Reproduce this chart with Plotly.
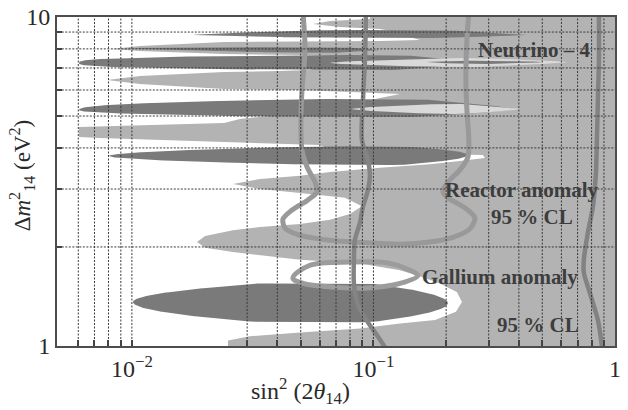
import numpy as np
import plotly.graph_objects as go

# ---------------- axis ticks / grid (data values) ----------------
grid_sin2 = [0.006, 0.007, 0.008, 0.009, 0.01, 0.03, 0.04, 0.05, 0.06, 0.07,
             0.08, 0.09, 0.1, 0.2, 0.3, 0.4, 0.5, 0.6, 0.7, 0.8, 0.9]
grid_dm2 = [2, 3, 4, 5, 6, 7, 8, 9]
x_label_vals = [0.01, 0.1, 1]
x_label_text = ["10<sup>−2</sup>", "10<sup>−1</sup>", "1"]
y_label_vals = [1, 10]
y_label_text = ["1", "10"]

# ---------------- white (allowed) region: right boundary, top -> bottom ----------------
white_edge_sin2 = [0.0967, 0.0967, 0.0661, 0.0562, 0.0727, 0.1064, 0.1288, 0.1416, 0.1557,
                   0.1064, 0.0241, 0.0108, 0.00827, 0.0108, 0.0241, 0.0497, 0.0661, 0.0661,
                   0.0546, 0.0410, 0.0241, 0.0108, 0.00789, 0.0108, 0.0241, 0.0497, 0.1288,
                   0.1064, 0.0661, 0.0339, 0.0280, 0.0241, 0.00738, 0.00604, 0.00604, 0.00738,
                   0.0241, 0.0601, 0.0661, 0.1884, 0.2839, 0.2893, 0.2281, 0.1713, 0.1064,
                   0.0661, 0.0497, 0.0339, 0.0262, 0.0339, 0.0497, 0.0762, 0.0896, 0.0799,
                   0.0661, 0.0497, 0.0339, 0.0262, 0.0201, 0.0186, 0.0201, 0.0262, 0.0356,
                   0.0497, 0.0879, 0.1288, 0.1557, 0.1884, 0.2216, 0.2324, 0.2196, 0.180,
                   0.1288, 0.0879, 0.0497, 0.0308, 0.0250, 0.0250]
white_edge_dm2 = [10.5, 9.86, 9.72, 9.52, 9.32, 9.19, 8.94, 8.69, 8.51,
                  8.45, 8.40, 8.16, 7.99, 7.88, 7.72, 7.66, 7.61, 7.25,
                  6.90, 6.85, 6.81, 6.62, 6.44, 6.26, 6.04, 6.00, 5.83,
                  5.67, 5.22, 4.97, 4.90, 4.76, 4.66, 4.63, 4.32, 4.29,
                  4.17, 4.08, 3.94, 3.83, 3.81, 3.73, 3.65, 3.57, 3.48,
                  3.38, 3.29, 3.22, 3.11, 3.00, 2.92, 2.82, 2.66, 2.52,
                  2.42, 2.35, 2.30, 2.25, 2.16, 2.07, 1.99, 1.93, 1.88,
                  1.83, 1.78, 1.70, 1.63, 1.55, 1.46, 1.36, 1.27, 1.20,
                  1.17, 1.13, 1.10, 1.07, 1.04, 0.95]

# ---------------- dark-gray stripes (left-pointing tongues) ----------------
dark_tip_sin2 = [0.0179, 0.00927, 0.00604, 0.00604, 0.00804, 0.0101]
dark_tip_dm2 = [8.82, 8.05, 7.25, 5.22, 3.78, 1.36]
dark_full_sin2 = [0.0661, 0.0497, 0.0497, 0.0497, 0.0661, 0.0339]
dark_top_dm2 = [9.13, 8.10, 7.66, 5.63, 4.05, 1.55]
dark_bot_dm2 = [8.64, 7.78, 6.90, 4.97, 3.55, 1.18]
dark_taper_sin2 = [0.188, 0.0727, 0.1288, 0.1557, 0.1288, 0.0967]
dark_end_sin2 = [0.432, 0.1064, 0.2506, 0.378, 0.246, 0.2034]
dark_end_dm2 = [8.82, 7.94, 7.30, 5.25, 3.81, 1.35]
dark_tip_power = [0.7, 0.7, 0.3, 0.4, 0.5, 0.5]
dark_end_power = [0.8, 0.8, 0.7, 0.7, 0.5, 0.5]

# ---------------- very light cores ----------------
pale_tip_sin2 = [0.0661, 0.0815]
pale_tip_dm2 = [7.25, 5.25]
pale_full_sin2 = [0.1884, 0.1884]
pale_top_dm2 = [7.50, 5.44]
pale_bot_dm2 = [7.05, 5.07]
pale_taper_sin2 = [0.2758, 0.2281]
pale_end_sin2 = [0.632, 0.404]
pale_end_dm2 = [7.30, 5.25]

# dark thread inside the upper pale core (Neutrino-4 best fit)
core_tip_sin2 = [0.1665]
core_tip_dm2 = [7.30]
core_full_sin2 = [0.2506]
core_top_dm2 = [7.36]
core_bot_dm2 = [7.20]
core_taper_sin2 = [0.334]
core_end_sin2 = [0.503]
core_end_dm2 = [7.30]

# ---------------- contour curves ----------------
reactor_sin2 = [0.0511, 0.0521, 0.0506, 0.0501, 0.0506, 0.0531, 0.0573, 0.0584, 0.0536,
                0.0460, 0.0422, 0.0431, 0.0487, 0.0642, 0.0940, 0.1288, 0.1713, 0.2134,
                0.2506, 0.2630, 0.2391, 0.2034, 0.1940, 0.2034, 0.2281, 0.2460, 0.2483,
                0.2437, 0.2414, 0.2437, 0.2483]
reactor_dm2 = [10.3, 7.94, 6.00, 4.53, 3.94, 3.50, 3.15, 2.94, 2.78,
               2.59, 2.43, 2.28, 2.18, 2.10, 2.06, 2.04, 2.07, 2.14,
               2.27, 2.45, 2.63, 2.82, 2.94, 3.15, 3.43, 3.75, 4.23,
               5.22, 6.44, 8.51, 10.3]

mid_curve_sin2 = [0.0931, 0.0922, 0.0905, 0.0896, 0.0949, 0.0967, 0.0949, 0.0905, 0.0879,
                  0.0838, 0.0830, 0.0830, 0.0863, 0.0949, 0.1033, 0.1138]
mid_curve_dm2 = [10.3, 7.40, 5.59, 4.23, 3.67, 3.31, 2.98, 2.65, 2.37,
                 2.10, 1.83, 1.55, 1.33, 1.18, 1.08, 0.97]

right_curve_sin2 = [0.8579, 0.8579, 0.8494, 0.8415, 0.8337, 0.8101, 0.7721, 0.7431, 0.7431,
                    0.7870, 0.8494, 0.8827, 0.886]
right_curve_dm2 = [10.3, 7.40, 5.59, 4.23, 3.36, 2.65, 2.21, 1.83, 1.67,
                   1.45, 1.20, 1.00, 0.97]

gallium_sin2 = [0.0464, 0.0546, 0.0799, 0.1138, 0.1416, 0.1528, 0.1288, 0.0940, 0.0680,
                0.0511, 0.0464]
gallium_dm2 = [1.61, 1.76, 1.80, 1.79, 1.70, 1.64, 1.55, 1.50, 1.51, 1.55, 1.61]

# ---------------- styles ----------------
LIGHT = "#b3b3b3"
DARK = "#7a7a7a"
PALE = "#d9d9d9"
SERIF = "Times New Roman, Liberation Serif, Times, serif"


def tongue(tip_x, tip_y, full_x, top_y, bot_y, taper_x, end_x, end_y, p, q, n=260):
    a, b, c, d = np.log10([tip_x, full_x, taper_x, end_x])
    ty, tt, tb, te = np.log10([tip_y, top_y, bot_y, end_y])
    s = np.linspace(0, 1, n)
    lx = a + (d - a) * s
    lx = np.unique(np.concatenate([lx, a + (b - a) * np.linspace(0, 1, 60) ** 2,
                                   d - (d - c) * np.linspace(0, 1, 60) ** 2]))
    top, bot = [], []
    for v in lx:
        if v < b:
            f = max((v - a) / (b - a), 0) ** p
            top.append(ty + (tt - ty) * f)
            bot.append(ty + (tb - ty) * f)
        elif v <= c:
            top.append(tt)
            bot.append(tb)
        else:
            g = max((d - v) / (d - c), 0) ** q
            top.append(te + (tt - te) * g)
            bot.append(te + (tb - te) * g)
    xs = np.concatenate([lx, lx[::-1]])
    ys = np.concatenate([top, bot[::-1]])
    return 10 ** xs, 10 ** ys


fig = go.Figure()

# white region
wx = [0.001] + white_edge_sin2 + [0.001]
wy = [white_edge_dm2[0]] + white_edge_dm2 + [white_edge_dm2[-1]]
fig.add_trace(go.Scatter(x=wx, y=wy, mode="lines", fill="toself", fillcolor="white",
                         line=dict(width=0), hoverinfo="skip"))

for i in range(len(dark_tip_sin2)):
    xs, ys = tongue(dark_tip_sin2[i], dark_tip_dm2[i], dark_full_sin2[i], dark_top_dm2[i],
                    dark_bot_dm2[i], dark_taper_sin2[i], dark_end_sin2[i], dark_end_dm2[i],
                    dark_tip_power[i], dark_end_power[i])
    fig.add_trace(go.Scatter(x=xs, y=ys, mode="lines", fill="toself", fillcolor=DARK,
                             line=dict(width=0), hoverinfo="skip"))

for i in range(len(pale_tip_sin2)):
    xs, ys = tongue(pale_tip_sin2[i], pale_tip_dm2[i], pale_full_sin2[i], pale_top_dm2[i],
                    pale_bot_dm2[i], pale_taper_sin2[i], pale_end_sin2[i], pale_end_dm2[i],
                    0.6, 0.7)
    fig.add_trace(go.Scatter(x=xs, y=ys, mode="lines", fill="toself", fillcolor=PALE,
                             line=dict(width=0), hoverinfo="skip"))

for i in range(len(core_tip_sin2)):
    xs, ys = tongue(core_tip_sin2[i], core_tip_dm2[i], core_full_sin2[i], core_top_dm2[i],
                    core_bot_dm2[i], core_taper_sin2[i], core_end_sin2[i], core_end_dm2[i],
                    0.6, 0.7)
    fig.add_trace(go.Scatter(x=xs, y=ys, mode="lines", fill="toself", fillcolor=DARK,
                             line=dict(width=0), hoverinfo="skip"))

# contour curves
fig.add_trace(go.Scatter(x=reactor_sin2, y=reactor_dm2, mode="lines",
                         line=dict(color="#999999", width=5, shape="spline", smoothing=0.8),
                         hoverinfo="skip"))
fig.add_trace(go.Scatter(x=gallium_sin2, y=gallium_dm2, mode="lines",
                         line=dict(color="#9c9c9c", width=5, shape="spline", smoothing=1.0),
                         hoverinfo="skip"))
fig.add_trace(go.Scatter(x=mid_curve_sin2, y=mid_curve_dm2, mode="lines",
                         line=dict(color="#848484", width=4.5, shape="spline", smoothing=0.8),
                         hoverinfo="skip"))
fig.add_trace(go.Scatter(x=right_curve_sin2, y=right_curve_dm2, mode="lines",
                         line=dict(color="#828282", width=4.5, shape="spline", smoothing=0.8),
                         hoverinfo="skip"))

# dotted grid on top
gx, gy = [], []
for v in grid_sin2:
    gx += [v, v, None]
    gy += [1, 10, None]
for v in grid_dm2:
    gx += [0.001, 1, None]
    gy += [v, v, None]
fig.add_trace(go.Scatter(x=gx, y=gy, mode="lines",
                         line=dict(color="#3a3a3a", width=1, dash="2px,1.5px"),
                         hoverinfo="skip", connectgaps=False))

ann_font = dict(family=SERIF, size=21, color="#3d3d3d")
labels = [("<b>Neutrino – 4</b>", 0.855, 0.900),
          ("<b>Reactor anomaly</b>", 0.832, 0.474),
          ("<b>95 % CL</b>", 0.851, 0.392),
          ("<b>Gallium anomaly</b>", 0.794, 0.210),
          ("<b>95 % CL</b>", 0.862, 0.064)]
for txt, px, py in labels:
    fig.add_annotation(text=txt, x=px, y=py, xref="paper", yref="paper", showarrow=False,
                       xanchor="center", yanchor="middle", font=ann_font)

fig.add_annotation(text="sin<sup>2</sup> (2<i>θ</i><sub>14</sub>)", x=0.436, y=-0.137,
                   xref="paper", yref="paper", showarrow=False, xanchor="center",
                   yanchor="middle", font=dict(family=SERIF, size=24, color="#2a2a2a"))
fig.add_annotation(text="Δ<i>m</i><sup>2</sup><sub>14</sub> (eV<sup>2</sup>)", x=-0.062, y=0.52,
                   xref="paper", yref="paper", showarrow=False, textangle=-90,
                   xanchor="center", yanchor="middle",
                   font=dict(family=SERIF, size=23, color="#2a2a2a"))

axis_common = dict(type="log", ticks="inside", tickwidth=1.5, tickcolor="#444",
                   showgrid=False, zeroline=False, showline=True, linecolor="#4d4d4d",
                   linewidth=2, mirror=True, layer="above traces", automargin=False,
                   tickfont=dict(family=SERIF, size=24, color="#2a2a2a"))
fig.update_xaxes(range=[-2.31, 0], tickmode="array", tickvals=x_label_vals,
                 ticktext=x_label_text, ticklen=6,
                 minor=dict(tickmode="array", tickvals=grid_sin2, ticks="inside", ticklen=6,
                            tickwidth=1.5, tickcolor="#444", showgrid=False),
                 **axis_common)
fig.update_yaxes(range=[0, 1], tickmode="array", tickvals=y_label_vals,
                 ticktext=y_label_text, ticklen=5,
                 minor=dict(tickmode="array", tickvals=grid_dm2, ticks="inside", ticklen=5,
                            tickwidth=1.5, tickcolor="#444", showgrid=False),
                 **axis_common)

fig.update_layout(width=628, height=410, margin=dict(l=57, r=13, t=17, b=64, autoexpand=False),
                  plot_bgcolor=LIGHT, paper_bgcolor="white", showlegend=False,
                  hovermode=False)

fig.write_html("out.html", config={"displayModeBar": False},
               post_script="document.body.style.margin='0px';")
